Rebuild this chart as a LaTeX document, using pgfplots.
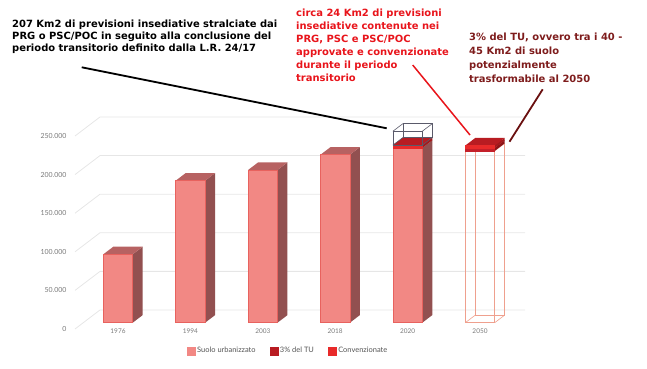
\documentclass[border=0pt]{standalone}
\usepackage{fontspec}
\setmainfont{DejaVu Sans}
\newfontfamily\latof{Lato}
\usepackage{pgfplots}
\pgfplotsset{compat=1.18}
\definecolor{urb}{HTML}{F28884}
\definecolor{urbside}{HTML}{925050}
\definecolor{urbtop}{HTML}{B76262}
\definecolor{urbedge}{HTML}{E8625E}
\definecolor{conv}{HTML}{E82A2A}
\definecolor{convside}{HTML}{A3191C}
\definecolor{convtop}{HTML}{B81C22}
\definecolor{tu}{HTML}{C4202A}
\definecolor{tuside}{HTML}{8E1418}
\definecolor{wiregray}{HTML}{5A5A6A}
\definecolor{wirepink}{HTML}{EFA08E}
\definecolor{gridc}{HTML}{E6E6E6}
\definecolor{txtred}{HTML}{E8141B}
\definecolor{txtmaroon}{HTML}{7E1C1C}
\definecolor{linemaroon}{HTML}{6A1010}
\definecolor{ticktxt}{HTML}{7A7A7A}
\definecolor{legtxt}{HTML}{555555}

% solid 3D box: x, ybottom, ytop, front, side, top, edge
\newcommand{\solidbox}[7]{%
  \pgfmathsetmacro\xl{#1-0.203}%
  \pgfmathsetmacro\xr{#1+0.203}%
  \pgfmathsetmacro\xrr{#1+0.203+0.138}%
  \pgfmathsetmacro\xll{#1-0.203+0.138}%
  \pgfmathsetmacro\yb{#2+9.84}%
  \pgfmathsetmacro\yt{#3+9.84}%
  \edef\tmp{%
    \noexpand\addplot[forget plot, fill=#5, draw=none] coordinates {(\xr,#2) (\xrr,\yb) (\xrr,\yt) (\xr,#3)} -- cycle;
    \noexpand\addplot[forget plot, fill=#6, draw=none] coordinates {(\xl,#3) (\xr,#3) (\xrr,\yt) (\xll,\yt)} -- cycle;
    \noexpand\addplot[forget plot, fill=#4, draw=#7, line width=0.5bp] coordinates {(\xl,#2) (\xr,#2) (\xr,#3) (\xl,#3)} -- cycle;
  }\tmp}
% wire 3D box: x, ybottom, ytop, colour
\newcommand{\wirebox}[4]{%
  \pgfmathsetmacro\xl{#1-0.203}%
  \pgfmathsetmacro\xr{#1+0.203}%
  \pgfmathsetmacro\xrr{#1+0.203+0.138}%
  \pgfmathsetmacro\xll{#1-0.203+0.138}%
  \pgfmathsetmacro\yb{#2+9.84}%
  \pgfmathsetmacro\yt{#3+9.84}%
  \edef\tmp{%
    \noexpand\addplot[forget plot, draw=#4, line width=0.6bp] coordinates {(\xll,\yb) (\xrr,\yb) (\xrr,\yt) (\xll,\yt)} -- cycle;
    \noexpand\addplot[forget plot, draw=#4, line width=0.6bp] coordinates {(\xl,#2) (\xll,\yb)};
    \noexpand\addplot[forget plot, draw=#4, line width=0.6bp] coordinates {(\xr,#2) (\xrr,\yb)};
    \noexpand\addplot[forget plot, draw=#4, line width=0.6bp] coordinates {(\xr,#3) (\xrr,\yt)};
    \noexpand\addplot[forget plot, draw=#4, line width=0.6bp] coordinates {(\xl,#3) (\xll,\yt)};
    \noexpand\addplot[forget plot, draw=#4, line width=0.6bp] coordinates {(\xl,#2) (\xr,#2) (\xr,#3) (\xl,#3)} -- cycle;
  }\tmp}

\pgfplotsset{sq/.style={legend image code/.code={\fill[#1] (0bp,-4bp) rectangle (8bp,4bp);}}}

\begin{document}
\begin{tikzpicture}
\useasboundingbox (0,0) rectangle (647bp,369bp);
\begin{axis}[
  at={(70bp,46.3bp)}, anchor=south west,
  scale only axis, width=467.92bp, height=231.6bp,
  xmin=-0.663, xmax=5.8, ymin=0, ymax=300,
  clip=false,
  axis x line*=bottom, axis y line*=left,
  axis line style={draw=none},
  major tick length=0pt,
  xtick={0,1,2,3,4,5},
  xticklabels={1976,1994,2003,2018,2020,2050},
  xticklabel style={font=\latof\fontsize{6.5}{7}\selectfont, text=ticktxt, yshift=-2.5bp},
  ytick={0,50,100,150,200,250},
  yticklabels={0,50.000,100.000,150.000,200.000,250.000},
  yticklabel style={font=\latof\fontsize{7}{8}\selectfont, text=ticktxt, yshift=-6.3bp},
  legend columns=3,
  legend style={at={(0.466,-0.122)}, anchor=center, draw=none, fill=none,
    font=\latof\fontsize{7.5}{9}\selectfont, text=legtxt,
    /tikz/every even column/.append style={column sep=12bp}},
]
\addlegendimage{sq=urb}\addlegendentry{Suolo urbanizzato}
\addlegendimage{sq=convtop}\addlegendentry{3\% del TU}
\addlegendimage{sq=conv}\addlegendentry{Convenzionate}

% back-wall gridlines
\addplot[forget plot, gridc, line width=0.8bp] coordinates {(-0.594,-8.16) (-0.249,16.45) (5.622,16.45)};
\addplot[forget plot, gridc, line width=0.8bp] coordinates {(-0.594,41.84) (-0.249,66.45) (5.622,66.45)};
\addplot[forget plot, gridc, line width=0.8bp] coordinates {(-0.594,91.84) (-0.249,116.45) (5.622,116.45)};
\addplot[forget plot, gridc, line width=0.8bp] coordinates {(-0.594,141.84) (-0.249,166.45) (5.622,166.45)};
\addplot[forget plot, gridc, line width=0.8bp] coordinates {(-0.594,191.84) (-0.249,216.45) (5.622,216.45)};
\addplot[forget plot, gridc, line width=0.8bp] coordinates {(-0.594,241.84) (-0.249,266.45) (5.622,266.45)};

% Suolo urbanizzato (thousand ha)
\solidbox{0}{0}{88.6}{urb}{urbside}{urbtop}{urbedge}
\solidbox{1}{0}{184.0}{urb}{urbside}{urbtop}{urbedge}
\solidbox{2}{0}{197.8}{urb}{urbside}{urbtop}{urbedge}
\solidbox{3}{0}{217.6}{urb}{urbside}{urbtop}{urbedge}
\solidbox{4}{0}{226.5}{urb}{urbside}{urbtop}{urbedge}
% 2020: convenzionate + stralciate (wire)
\solidbox{4}{226.5}{230.0}{conv}{convside}{convtop}{conv}
\wirebox{4}{230.0}{248.0}{wiregray}
% 2050
\wirebox{5}{0}{222.5}{wirepink}
\solidbox{5}{222.5}{226.5}{tu}{tuside}{convtop}{tu}
\solidbox{5}{226.5}{229.5}{conv}{convside}{convtop}{conv}
\end{axis}

% annotations
\begin{scope}[every node/.style={anchor=base west, inner sep=0pt}]
\node[font=\bfseries\fontsize{10}{12}\selectfont, text=black] at (12bp,341bp) {207 Km2 di previsioni insediative stralciate dai};
\node[font=\bfseries\fontsize{10}{12}\selectfont, text=black] at (12bp,329bp) {PRG o PSC/POC in seguito alla conclusione del};
\node[font=\bfseries\fontsize{10}{12}\selectfont, text=black] at (12bp,317bp) {periodo transitorio definito dalla L.R. 24/17};

\node[font=\bfseries\fontsize{10}{12}\selectfont, text=txtred] at (296bp,352bp) {circa 24 Km2 di previsioni};
\node[font=\bfseries\fontsize{10}{12}\selectfont, text=txtred] at (296bp,339bp) {insediative contenute nei};
\node[font=\bfseries\fontsize{10}{12}\selectfont, text=txtred] at (296bp,326bp) {PRG, PSC e PSC/POC};
\node[font=\bfseries\fontsize{10}{12}\selectfont, text=txtred] at (296bp,313bp) {approvate e convenzionate};
\node[font=\bfseries\fontsize{10}{12}\selectfont, text=txtred] at (296bp,300bp) {durante il periodo};
\node[font=\bfseries\fontsize{10}{12}\selectfont, text=txtred] at (296bp,287bp) {transitorio};

\node[font=\bfseries\fontsize{10}{12}\selectfont, text=txtmaroon] at (469bp,328bp) {3\% del TU, ovvero tra i 40 -};
\node[font=\bfseries\fontsize{10}{12}\selectfont, text=txtmaroon] at (469bp,314bp) {45 Km2 di suolo};
\node[font=\bfseries\fontsize{10}{12}\selectfont, text=txtmaroon] at (469bp,300bp) {potenzialmente};
\node[font=\bfseries\fontsize{10}{12}\selectfont, text=txtmaroon] at (469bp,286bp) {trasformabile al 2050};
\end{scope}
\draw[black, line width=1.8bp] (81.7bp,301.7bp) -- (386.7bp,240.7bp);
\draw[txtred, line width=1.5bp] (412.7bp,304bp) -- (470bp,234bp);
\draw[linemaroon, line width=1.8bp] (542.7bp,279.7bp) -- (509.5bp,227.3bp);
\end{tikzpicture}
\end{document}
